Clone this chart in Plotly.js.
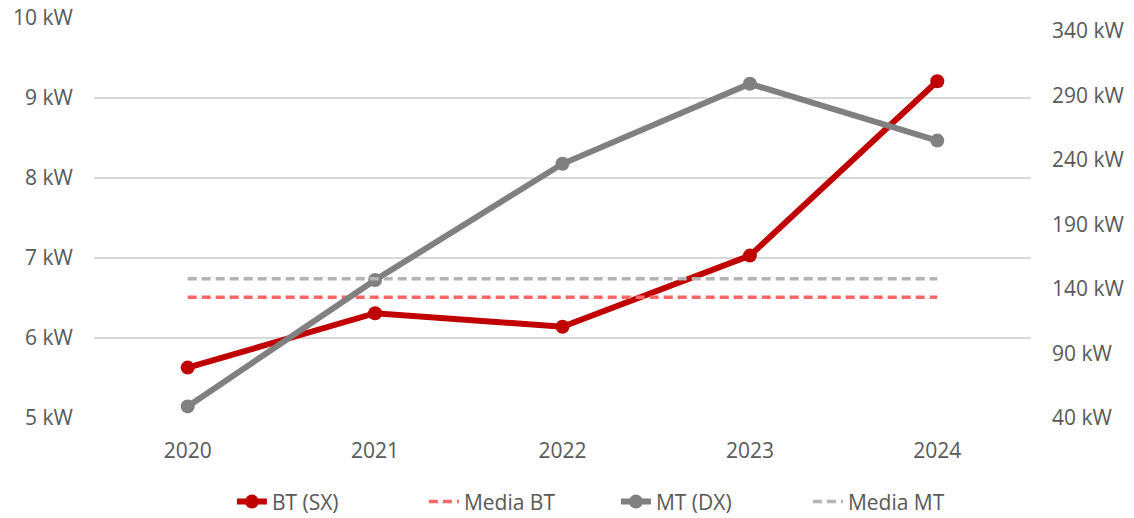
<!DOCTYPE html>
<html>
<head>
<meta charset="utf-8">
<script src="https://cdn.plot.ly/plotly-3.0.1.min.js"></script>
<style>
  html, body { margin: 0; padding: 0; background: #fff; }
  #plotDiv { width: 1134px; height: 518px; }
</style>
</head>
<body>
<div id="plotDiv"></div>
<script>
const years = ["2020", "2021", "2022", "2023", "2024"];
const btSx = [5.63, 6.31, 6.14, 7.03, 9.21]; // kW, left axis
const mtDx = [49, 147, 237, 299, 255]; // kW, right axis
const mediaBT = [6.51, 6.51, 6.51, 6.51, 6.51];
const mediaMT = [148, 148, 148, 148, 148];

const fontFam = "'Open Sans', sans-serif";

const traces = [
  {
    x: years, y: btSx, name: "BT (SX)", type: "scatter", mode: "lines+markers",
    line: { color: "#C00000", width: 6 },
    marker: { color: "#C00000", size: 14 },
    yaxis: "y",
  },
  {
    x: years, y: mediaBT, name: "Media BT", type: "scatter", mode: "lines",
    line: { color: "#FF6666", width: 3.5, dash: "9px,5px" },
    yaxis: "y",
  },
  {
    x: years, y: mtDx, name: "MT (DX)", type: "scatter", mode: "lines+markers",
    line: { color: "#808080", width: 6 },
    marker: { color: "#808080", size: 14 },
    yaxis: "y2",
  },
  {
    x: years, y: mediaMT, name: "Media MT", type: "scatter", mode: "lines",
    line: { color: "#B4B4B4", width: 3.5, dash: "9px,5px" },
    yaxis: "y2",
  },
];

const layout = {
  width: 1134,
  height: 518,
  margin: { l: 94, r: 103, t: 18, b: 100 },
  paper_bgcolor: "#fff",
  plot_bgcolor: "#fff",
  font: { family: fontFam, size: 21, color: "#595959" },
  showlegend: true,
  legend: {
    orientation: "h",
    xref: "paper", x: 0.557, xanchor: "center",
    yref: "container", y: 0.031, yanchor: "middle",
    font: { family: fontFam, size: 21, color: "#595959" },
    traceorder: "normal",
    entrywidth: 147,
    entrywidthmode: "pixels",
  },
  xaxis: {
    type: "category",
    range: [-0.5, 4.5],
    showgrid: false,
    showline: false,
    zeroline: false,
    ticks: "",
    ticklabelstandoff: 18,
  },
  yaxis: {
    range: [5, 10],
    tick0: 5,
    dtick: 1,
    ticksuffix: " kW",
    showgrid: true,
    gridcolor: "#D9D9D9",
    gridwidth: 1.5,
    zeroline: false,
    showline: false,
    ticks: "",
    ticklabelstandoff: 20,
  },
  yaxis2: {
    overlaying: "y",
    side: "right",
    range: [40, 350],
    tick0: 40,
    dtick: 50,
    ticksuffix: " kW",
    showgrid: false,
    zeroline: false,
    showline: false,
    ticks: "",
    ticklabelstandoff: 20,
  },
};

Plotly.newPlot("plotDiv", traces, layout, { displayModeBar: false, staticPlot: true });
</script>
</body>
</html>
